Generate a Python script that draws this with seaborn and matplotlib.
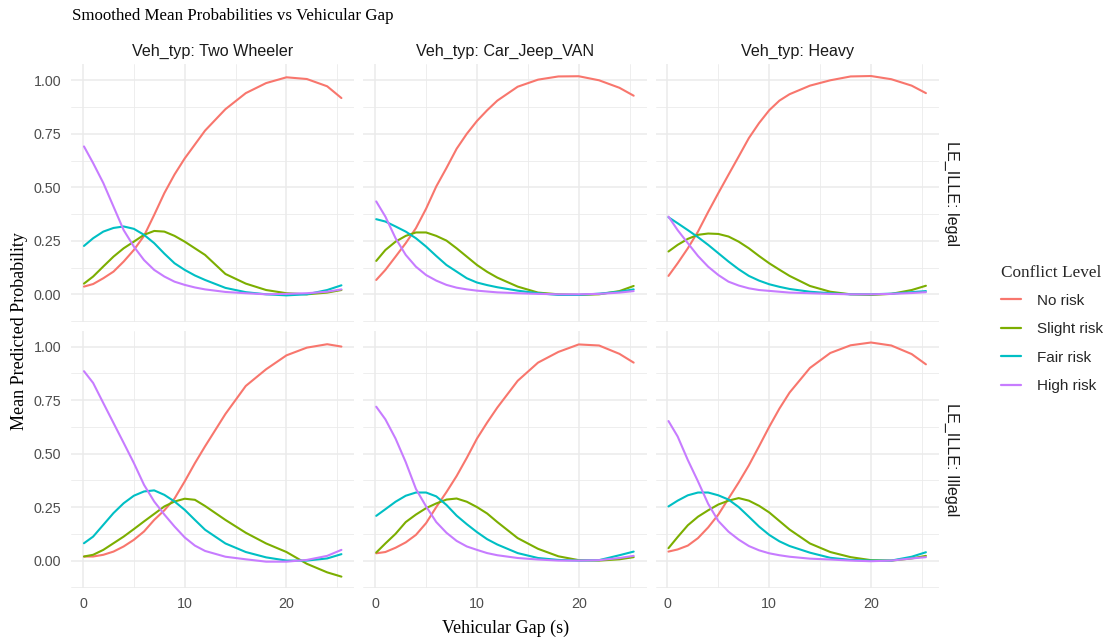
import numpy as np
import pandas as pd
import seaborn as sns
import matplotlib
matplotlib.use("Agg")
import matplotlib.pyplot as plt
from matplotlib.lines import Line2D
from matplotlib.ticker import MultipleLocator, FormatStrFormatter

# ---- data -------------------------------------------------------------
VEH_TYPES = ["Two Wheeler", "Car_Jeep_VAN", "Heavy"]
LEGALITY = ["legal", "Illegal"]
LEVELS = ["No risk", "Slight risk", "Fair risk", "High risk"]
COLORS = ["#F8766D", "#7CAE00", "#00BFC4", "#C77CFF"]

GAP = [0.1, 1, 2, 3, 4, 5, 6, 7, 8, 9, 10, 11, 12, 14, 16, 18, 20, 22, 24, 25.4]

# Two Wheeler, legal
tw_legal_no = [0.036, 0.048, 0.075, 0.106, 0.153, 0.207, 0.273, 0.371, 0.473, 0.560, 0.635, 0.70, 0.765, 0.865, 0.94, 0.987, 1.014, 1.006, 0.972, 0.917]
tw_legal_slight = [0.05, 0.083, 0.13, 0.176, 0.215, 0.246, 0.278, 0.296, 0.293, 0.273, 0.246, 0.215, 0.184, 0.095, 0.05, 0.02, 0.005, 0.0, 0.008, 0.02]
tw_legal_fair = [0.226, 0.262, 0.293, 0.31, 0.317, 0.306, 0.278, 0.239, 0.19, 0.145, 0.114, 0.088, 0.067, 0.03, 0.01, 0.0, -0.005, 0.0, 0.02, 0.042]
tw_legal_high = [0.691, 0.613, 0.52, 0.41, 0.30, 0.223, 0.16, 0.114, 0.083, 0.059, 0.044, 0.032, 0.023, 0.011, 0.005, 0.0, 0.002, 0.005, 0.012, 0.023]

# Two Wheeler, illegal
tw_illegal_no = [0.019, 0.019, 0.027, 0.042, 0.066, 0.097, 0.136, 0.19, 0.235, 0.290, 0.37, 0.455, 0.534, 0.685, 0.816, 0.894, 0.959, 0.995, 1.011, 1.0]
tw_illegal_slight = [0.019, 0.027, 0.05, 0.081, 0.112, 0.147, 0.183, 0.218, 0.253, 0.276, 0.289, 0.284, 0.255, 0.19, 0.13, 0.08, 0.04, -0.015, -0.055, -0.075]
tw_illegal_fair = [0.081, 0.112, 0.167, 0.222, 0.268, 0.303, 0.323, 0.328, 0.307, 0.276, 0.237, 0.19, 0.144, 0.08, 0.04, 0.015, 0.0, 0.0, 0.01, 0.03]
tw_illegal_high = [0.885, 0.83, 0.736, 0.643, 0.55, 0.456, 0.354, 0.276, 0.215, 0.159, 0.108, 0.07, 0.045, 0.018, 0.006, -0.005, -0.005, 0.003, 0.022, 0.05]

# Car_Jeep_VAN, legal
cjv_legal_no = [0.067, 0.114, 0.176, 0.239, 0.309, 0.40, 0.504, 0.59, 0.68, 0.75, 0.81, 0.86, 0.905, 0.97, 1.003, 1.018, 1.019, 1.0, 0.965, 0.928]
cjv_legal_slight = [0.156, 0.207, 0.246, 0.273, 0.289, 0.289, 0.273, 0.251, 0.215, 0.176, 0.137, 0.105, 0.078, 0.036, 0.008, 0.0, -0.003, 0.0, 0.015, 0.039]
cjv_legal_fair = [0.351, 0.34, 0.317, 0.293, 0.262, 0.223, 0.179, 0.137, 0.106, 0.075, 0.055, 0.043, 0.033, 0.017, 0.005, -0.003, -0.003, 0.003, 0.012, 0.023]
cjv_legal_high = [0.434, 0.363, 0.262, 0.184, 0.129, 0.09, 0.064, 0.044, 0.031, 0.023, 0.017, 0.013, 0.009, 0.005, 0.002, 0.0, 0.0, 0.002, 0.008, 0.015]

# Car_Jeep_VAN, illegal
cjv_illegal_no = [0.034, 0.04, 0.06, 0.085, 0.12, 0.175, 0.25, 0.32, 0.395, 0.48, 0.57, 0.645, 0.715, 0.84, 0.925, 0.975, 1.01, 1.005, 0.966, 0.925]
cjv_illegal_slight = [0.0375, 0.08, 0.125, 0.18, 0.215, 0.245, 0.267, 0.285, 0.29, 0.275, 0.25, 0.22, 0.18, 0.105, 0.055, 0.02, 0.002, 0.0, 0.006, 0.016]
cjv_illegal_fair = [0.209, 0.24, 0.275, 0.303, 0.318, 0.318, 0.30, 0.26, 0.21, 0.17, 0.133, 0.10, 0.075, 0.035, 0.012, 0.003, 0.0, 0.002, 0.025, 0.042]
cjv_illegal_high = [0.719, 0.66, 0.57, 0.46, 0.335, 0.253, 0.18, 0.13, 0.092, 0.066, 0.05, 0.035, 0.025, 0.012, 0.005, 0.0, 0.0, 0.002, 0.012, 0.022]

# Heavy, legal
hv_legal_no = [0.086, 0.145, 0.215, 0.293, 0.385, 0.473, 0.559, 0.644, 0.73, 0.80, 0.86, 0.905, 0.935, 0.975, 1.0, 1.018, 1.02, 1.005, 0.975, 0.94]
hv_legal_slight = [0.20, 0.231, 0.259, 0.278, 0.284, 0.282, 0.27, 0.246, 0.215, 0.179, 0.145, 0.115, 0.086, 0.039, 0.012, 0.0, -0.003, 0.002, 0.02, 0.04]
hv_legal_fair = [0.36, 0.332, 0.30, 0.267, 0.231, 0.192, 0.153, 0.117, 0.086, 0.064, 0.047, 0.035, 0.025, 0.012, 0.005, 0.0, 0.0, 0.003, 0.01, 0.015]
hv_legal_high = [0.363, 0.30, 0.239, 0.179, 0.129, 0.09, 0.059, 0.041, 0.028, 0.02, 0.016, 0.012, 0.008, 0.005, 0.002, 0.0, 0.0, 0.002, 0.006, 0.01]

# Heavy, illegal
hv_illegal_no = [0.042, 0.052, 0.07, 0.105, 0.155, 0.215, 0.29, 0.365, 0.445, 0.534, 0.625, 0.71, 0.785, 0.9, 0.97, 1.006, 1.019, 1.005, 0.965, 0.917]
hv_illegal_slight = [0.058, 0.11, 0.165, 0.205, 0.235, 0.262, 0.28, 0.292, 0.28, 0.256, 0.225, 0.185, 0.145, 0.08, 0.04, 0.016, 0.002, 0.0, 0.01, 0.022]
hv_illegal_fair = [0.253, 0.28, 0.305, 0.318, 0.318, 0.305, 0.285, 0.25, 0.205, 0.159, 0.12, 0.09, 0.068, 0.037, 0.013, 0.003, 0.0, 0.0, 0.018, 0.039]
hv_illegal_high = [0.652, 0.58, 0.47, 0.37, 0.265, 0.185, 0.135, 0.098, 0.068, 0.048, 0.034, 0.025, 0.018, 0.009, 0.005, 0.0, -0.003, 0.0, 0.01, 0.016]

PANELS = {
    ("Two Wheeler", "legal"): [tw_legal_no, tw_legal_slight, tw_legal_fair, tw_legal_high],
    ("Two Wheeler", "Illegal"): [tw_illegal_no, tw_illegal_slight, tw_illegal_fair, tw_illegal_high],
    ("Car_Jeep_VAN", "legal"): [cjv_legal_no, cjv_legal_slight, cjv_legal_fair, cjv_legal_high],
    ("Car_Jeep_VAN", "Illegal"): [cjv_illegal_no, cjv_illegal_slight, cjv_illegal_fair, cjv_illegal_high],
    ("Heavy", "legal"): [hv_legal_no, hv_legal_slight, hv_legal_fair, hv_legal_high],
    ("Heavy", "Illegal"): [hv_illegal_no, hv_illegal_slight, hv_illegal_fair, hv_illegal_high],
}

rows = []
for (veh, legal), series in PANELS.items():
    for level, vals in zip(LEVELS, series):
        for g, p in zip(GAP, vals):
            rows.append({"Veh_typ": veh, "LE_ILLE": legal, "Conflict Level": level,
                         "gap": g, "prob": p})
df = pd.DataFrame(rows)

# ---- style ------------------------------------------------------------
sns.set_theme(style="whitegrid", rc={
    "axes.spines.left": False, "axes.spines.right": False,
    "axes.spines.top": False, "axes.spines.bottom": False,
    "axes.facecolor": "white", "figure.facecolor": "white",
})
plt.rcParams["font.family"] = ["Liberation Sans", "DejaVu Sans"]
SERIF = ["Liberation Serif", "DejaVu Serif"]

g = sns.relplot(
    data=df, x="gap", y="prob", hue="Conflict Level", hue_order=LEVELS,
    palette=COLORS, col="Veh_typ", col_order=VEH_TYPES,
    row="LE_ILLE", row_order=LEGALITY, kind="line", linewidth=1.5,
    legend=False, height=3, aspect=1.1, facet_kws=dict(margin_titles=True),
)
g.set_titles(col_template="Veh_typ: {col_name}", row_template="LE_ILLE: {row_name}",
             size=11.6, color="#1A1A1A")
g.set_axis_labels("", "")

fig = g.figure
fig.set_size_inches(11.11, 6.43)
fig.subplots_adjust(left=0.064, right=0.845, top=0.9, bottom=0.085,
                    wspace=0.032, hspace=0.033)

for ax in g.axes.flat:
    for sp in ax.spines.values():
        sp.set_visible(False)
    ax.xaxis.set_major_locator(MultipleLocator(10))
    ax.xaxis.set_minor_locator(MultipleLocator(5))
    ax.yaxis.set_major_locator(MultipleLocator(0.25))
    ax.yaxis.set_minor_locator(MultipleLocator(0.125))
    ax.yaxis.set_major_formatter(FormatStrFormatter("%.2f"))
    ax.grid(which="major", color="#EBEBEB", linewidth=1.1)
    ax.grid(which="minor", color="#EBEBEB", linewidth=0.6)
    ax.set_axisbelow(True)
    ax.tick_params(which="both", length=0, labelsize=10.3, labelcolor="#4D4D4D")
    ax.tick_params(axis="y", pad=7)
    ax.tick_params(axis="x", pad=6)

for ax in g.axes.flat:
    for t in ax.texts:
        t.set_color("#1A1A1A")
        t.set_fontsize(11.6)

fig.text(72 / 1111, 1 - 16 / 643, "Smoothed Mean Probabilities vs Vehicular Gap",
         family=SERIF, fontsize=12.2, ha="left", va="center", color="black")
fig.text(0.455, 1 - 628 / 643, "Vehicular Gap (s)", family=SERIF, fontsize=13,
         ha="center", va="center", color="black")
fig.text(20 / 1111, 1 - 331 / 643, "Mean Predicted Probability", family=SERIF,
         fontsize=13, rotation=90, ha="center", va="center", color="black")

handles = [Line2D([], [], color=c, lw=1.6) for c in COLORS]
leg = fig.legend(handles, LEVELS, title="Conflict Level", loc="center left",
                 bbox_to_anchor=(0.889, 0.488), frameon=False, fontsize=11,
                 handlelength=1.25, handletextpad=1.05, labelspacing=0.95)
leg.get_title().set_fontfamily(SERIF)
leg.get_title().set_fontsize(12.4)
leg._legend_box.align = "left"
leg._legend_box.sep = 9

fig.savefig("out.png", dpi=100)
